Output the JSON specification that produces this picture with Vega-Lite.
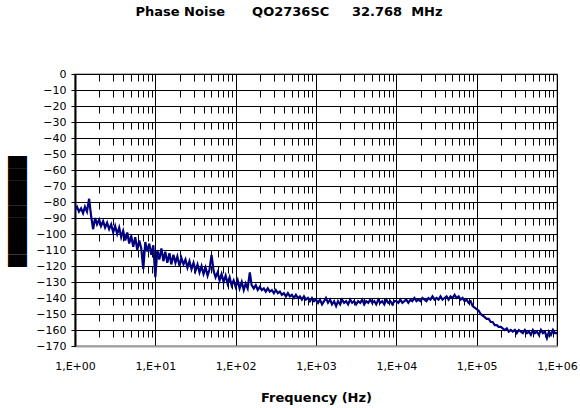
{
  "$schema": "https://vega.github.io/schema/vega-lite/v6.json",
  "autosize": "none",
  "width": 482,
  "height": 272,
  "padding": {"left": 75, "top": 74, "right": 23, "bottom": 62},
  "background": "white",
  "config": {
    "view": {"stroke": "#a0a0a0", "strokeWidth": 1.5},
    "font": "DejaVu Sans"
  },
  "title": {
    "text": "Phase Noise\u00a0\u00a0\u00a0\u00a0\u00a0\u00a0QO2736SC\u00a0\u00a0\u00a0\u00a0\u00a032.768\u00a0\u00a0MHz",
    "font": "DejaVu Sans",
    "fontSize": 13,
    "fontWeight": "bold",
    "color": "black",
    "anchor": "middle",
    "dx": -27,
    "offset": 49
  },
  "data": {"values": [
    {"f":1,"db":-85},{"f":1.06,"db":-83},{"f":1.12,"db":-86},{"f":1.19,"db":-84},{"f":1.26,"db":-87},{"f":1.33,"db":-83},{"f":1.41,"db":-86},{"f":1.5,"db":-78},{"f":1.58,"db":-88},{"f":1.68,"db":-97},
    {"f":1.78,"db":-90},{"f":1.88,"db":-94},{"f":2,"db":-91},{"f":2.11,"db":-95},{"f":2.24,"db":-92},{"f":2.37,"db":-96},{"f":2.51,"db":-93},{"f":2.66,"db":-97},{"f":2.82,"db":-94},{"f":2.99,"db":-99},
    {"f":3.16,"db":-95},{"f":3.35,"db":-100},{"f":3.55,"db":-96},{"f":3.76,"db":-102},{"f":3.98,"db":-98},{"f":4.22,"db":-104},{"f":4.47,"db":-99},{"f":4.73,"db":-106},{"f":5.01,"db":-101},{"f":5.31,"db":-108},
    {"f":5.62,"db":-102},{"f":5.96,"db":-110},{"f":6.31,"db":-104},{"f":6.68,"db":-109},{"f":7.08,"db":-122},{"f":7.5,"db":-105},{"f":7.94,"db":-111},{"f":8.41,"db":-106},{"f":8.91,"db":-113},{"f":9.44,"db":-107},
    {"f":10,"db":-127},{"f":10.6,"db":-110},{"f":11.2,"db":-116},{"f":11.9,"db":-109},{"f":12.6,"db":-117},{"f":13.3,"db":-111},{"f":14.1,"db":-118},{"f":15,"db":-112},{"f":15.8,"db":-119},{"f":16.8,"db":-113},
    {"f":17.8,"db":-118},{"f":18.8,"db":-114},{"f":20,"db":-120},{"f":21.1,"db":-115},{"f":22.4,"db":-119},{"f":23.7,"db":-116},{"f":25.1,"db":-121},{"f":26.6,"db":-117},{"f":28.2,"db":-122},{"f":29.9,"db":-118},
    {"f":31.6,"db":-123},{"f":33.5,"db":-119},{"f":35.5,"db":-124},{"f":37.6,"db":-120},{"f":39.8,"db":-125},{"f":42.2,"db":-121},{"f":44.7,"db":-126},{"f":47.3,"db":-122},{"f":50.1,"db":-113},{"f":53.1,"db":-123},
    {"f":56.2,"db":-127},{"f":59.6,"db":-124},{"f":63.1,"db":-129},{"f":66.8,"db":-125},{"f":70.8,"db":-130},{"f":75,"db":-126},{"f":79.4,"db":-131},{"f":84.1,"db":-127},{"f":89.1,"db":-132},{"f":94.4,"db":-129},
    {"f":100,"db":-133},{"f":106,"db":-129},{"f":112,"db":-134},{"f":119,"db":-130},{"f":126,"db":-135},{"f":133,"db":-131},{"f":141,"db":-134},{"f":150,"db":-124},{"f":158,"db":-132},{"f":168,"db":-134},
    {"f":178,"db":-132},{"f":188,"db":-135},{"f":200,"db":-133},{"f":211,"db":-135},{"f":224,"db":-134},{"f":237,"db":-136},{"f":251,"db":-134},{"f":266,"db":-136},{"f":282,"db":-135},{"f":299,"db":-137},
    {"f":316,"db":-135},{"f":335,"db":-137},{"f":355,"db":-136},{"f":376,"db":-138},{"f":398,"db":-137},{"f":422,"db":-139},{"f":447,"db":-137},{"f":473,"db":-139},{"f":501,"db":-138},{"f":531,"db":-140},
    {"f":562,"db":-138},{"f":596,"db":-140},{"f":631,"db":-139},{"f":668,"db":-141},{"f":708,"db":-139},{"f":750,"db":-141},{"f":794,"db":-140},{"f":841,"db":-142},{"f":891,"db":-140},{"f":944,"db":-142},
    {"f":1000,"db":-141},{"f":1060,"db":-143},{"f":1120,"db":-141},{"f":1190,"db":-144},{"f":1260,"db":-142},{"f":1330,"db":-140},{"f":1410,"db":-143},{"f":1500,"db":-141},{"f":1580,"db":-144},{"f":1680,"db":-142},
    {"f":1780,"db":-145},{"f":1880,"db":-142},{"f":2000,"db":-144},{"f":2110,"db":-141},{"f":2240,"db":-143},{"f":2370,"db":-142},{"f":2510,"db":-144},{"f":2660,"db":-141},{"f":2820,"db":-143},{"f":2990,"db":-142},
    {"f":3160,"db":-144},{"f":3350,"db":-142},{"f":3550,"db":-143},{"f":3760,"db":-141},{"f":3980,"db":-144},{"f":4220,"db":-142},{"f":4470,"db":-143},{"f":4730,"db":-141},{"f":5010,"db":-143},{"f":5310,"db":-142},
    {"f":5620,"db":-144},{"f":5960,"db":-141},{"f":6310,"db":-143},{"f":6680,"db":-142},{"f":7080,"db":-144},{"f":7500,"db":-141},{"f":7940,"db":-143},{"f":8410,"db":-142},{"f":8910,"db":-144},{"f":9440,"db":-142},
    {"f":10000,"db":-142},{"f":10600,"db":-143},{"f":11200,"db":-141},{"f":11900,"db":-143},{"f":12600,"db":-142},{"f":13300,"db":-141},{"f":14100,"db":-143},{"f":15000,"db":-141},{"f":15800,"db":-142},{"f":16800,"db":-140},
    {"f":17800,"db":-142},{"f":18800,"db":-141},{"f":20000,"db":-142},{"f":21100,"db":-140},{"f":22400,"db":-141},{"f":23700,"db":-142},{"f":25100,"db":-140},{"f":26600,"db":-141},{"f":28200,"db":-139},{"f":29900,"db":-141},
    {"f":31600,"db":-140},{"f":33500,"db":-141},{"f":35500,"db":-139},{"f":37600,"db":-141},{"f":39800,"db":-140},{"f":42200,"db":-139},{"f":44700,"db":-141},{"f":47300,"db":-139},{"f":50100,"db":-140},{"f":53100,"db":-138},
    {"f":56200,"db":-140},{"f":59600,"db":-139},{"f":63100,"db":-141},{"f":66800,"db":-140},{"f":70800,"db":-142},{"f":75000,"db":-141},{"f":79400,"db":-143},{"f":84100,"db":-142},{"f":89100,"db":-145},{"f":94400,"db":-146},
    {"f":100000,"db":-147},{"f":106000,"db":-148},{"f":112000,"db":-150},{"f":119000,"db":-151},{"f":126000,"db":-152},{"f":133000,"db":-153},{"f":141000,"db":-153},{"f":150000,"db":-155},{"f":158000,"db":-155},{"f":168000,"db":-157},
    {"f":178000,"db":-157},{"f":188000,"db":-158},{"f":200000,"db":-158},{"f":211000,"db":-159},{"f":224000,"db":-160},{"f":237000,"db":-159},{"f":251000,"db":-161},{"f":266000,"db":-160},{"f":282000,"db":-161},{"f":299000,"db":-160},
    {"f":316000,"db":-162},{"f":335000,"db":-160},{"f":355000,"db":-161},{"f":376000,"db":-162},{"f":398000,"db":-160},{"f":422000,"db":-162},{"f":447000,"db":-161},{"f":473000,"db":-163},{"f":501000,"db":-160},{"f":531000,"db":-162},
    {"f":562000,"db":-161},{"f":596000,"db":-163},{"f":631000,"db":-160},{"f":668000,"db":-162},{"f":708000,"db":-161},{"f":750000,"db":-165},{"f":794000,"db":-161},{"f":841000,"db":-163},{"f":891000,"db":-160},{"f":944000,"db":-162},
    {"f":1000000,"db":-162}
  ]},
  "mark": {"type": "line", "color": "#000080", "strokeWidth": 2.2, "clip": true},
  "encoding": {
    "x": {
      "field": "f",
      "type": "quantitative",
      "scale": {"type": "log", "domain": [1, 1000000], "nice": false},
      "axis": {
        "title": "Frequency (Hz)",
        "titleFont": "DejaVu Sans",
        "titleFontSize": 13,
        "titleFontWeight": "bold",
        "titleColor": "black",
        "titlePadding": 20,
        "values": [1,2,3,4,5,6,7,8,9,10,20,30,40,50,60,70,80,90,100,200,300,400,500,600,700,800,900,1000,2000,3000,4000,5000,6000,7000,8000,9000,10000,20000,30000,40000,50000,60000,70000,80000,90000,100000,200000,300000,400000,500000,600000,700000,800000,900000,1000000],
        "labelExpr": "abs(log(datum.value)/LN10 - round(log(datum.value)/LN10)) < 0.001 ? '1,E+0' + round(log(datum.value)/LN10) : ''",
        "labelOverlap": false,
        "labelBound": false,
        "labelFlush": false,
        "labelFont": "DejaVu Sans",
        "labelFontSize": 11,
        "labelColor": "black",
        "labelPadding": 14,
        "ticks": false,
        "domain": true,
        "domainColor": "#a0a0a0",
        "domainWidth": 2,
        "grid": true,
        "gridColor": "black",
        "gridOpacity": 1,
        "gridWidth": 1,
        "gridDash": {"condition": {"test": "abs(log(datum.value)/LN10 - round(log(datum.value)/LN10)) < 0.001", "value": []}, "value": [7, 9]}
      }
    },
    "y": {
      "field": "db",
      "type": "quantitative",
      "scale": {"domain": [-170, 0], "nice": false, "zero": false},
      "axis": {
        "title": "\u2588\u2588\u2588\u2588\u2588\u2588\u2588\u2588\u2588",
        "titleFont": "DejaVu Sans",
        "titleFontSize": 16,
        "titleColor": "black",
        "titleAngle": -90,
        "titleX": -58,
        "titleY": 137,
        "titleAlign": "center",
        "titleBaseline": "middle",
        "values": [0,-10,-20,-30,-40,-50,-60,-70,-80,-90,-100,-110,-120,-130,-140,-150,-160,-170],
        "format": "d",
        "labelFont": "DejaVu Sans",
        "labelFontSize": 11,
        "labelColor": "black",
        "labelPadding": 5,
        "ticks": true,
        "tickSize": 4,
        "tickColor": "black",
        "domain": true,
        "domainColor": "black",
        "domainWidth": 2,
        "grid": true,
        "gridColor": {"condition": {"test": "datum.value <= -170", "value": "#a0a0a0"}, "value": "black"},
        "gridOpacity": 1,
        "gridWidth": 1
      }
    }
  }
}
